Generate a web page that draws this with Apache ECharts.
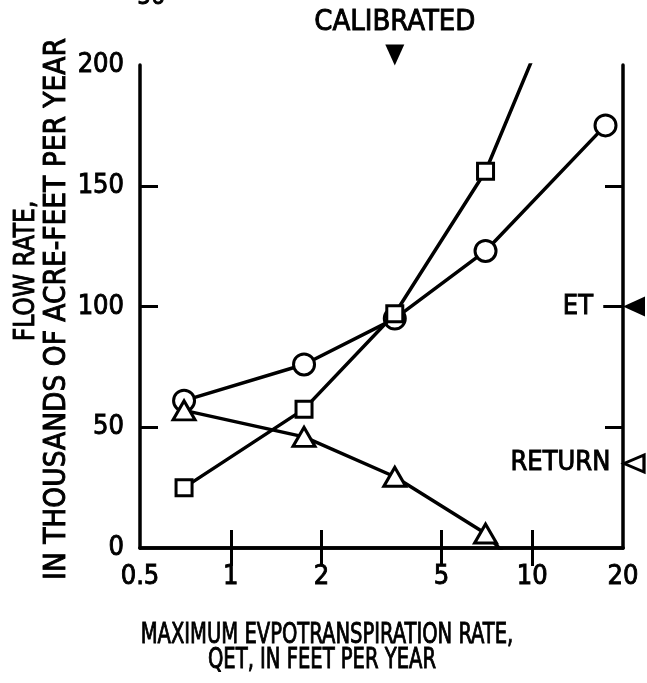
<!DOCTYPE html>
<html>
<head>
<meta charset="utf-8">
<script src="https://cdn.jsdelivr.net/npm/echarts@6/dist/echarts.min.js"></script>
<style>
html,body{margin:0;padding:0;background:#fff;}
#chart{width:647px;height:683px;}
</style>
</head>
<body>
<div id="chart"></div>
<script>
// Data
const qetValues = [0.7, 1.75, 3.5, 7, 17.5];
const etFlow = [61, 76, 95, 123, 175];            // circles
const rechargeFlow = [25, 57.5, 97, 156, 275];    // squares (last point beyond axis)
const returnFlow = [57, 46, 29.5, 6, -47];        // triangles (last point below axis)
const xTickLabels = [0.5, 1, 2, 5, 10, 20];
const xTickMarks = [1, 2, 5, 10];
const yTickLabels = [0, 50, 100, 150, 200];
const yTickMarks = [50, 100, 150];
const calibratedQet = 3.5;
const etObserved = 100;
const returnObserved = 35;

const FONT = "'DejaVu Sans Condensed','DejaVu Sans',sans-serif";
const bolden = { textBorderColor: '#000', textBorderWidth: 0.9 };

function pairs(xs, ys) { return xs.map((x, i) => [x, ys[i]]); }

const lineStyle = { color: '#000', width: 3.5 };
const hollow = { color: '#fff', borderColor: '#000', borderWidth: 3 };

const chart = echarts.init(document.getElementById('chart'), null, { renderer: 'canvas' });

const baseX = {
  type: 'log', logBase: 10, min: 0.5, max: 20,
  splitLine: { show: false },
  axisLine: { lineStyle: { color: '#000', width: 3.5 } },
  axisTick: { inside: true, length: 18, lineStyle: { color: '#000', width: 3 }, customValues: xTickMarks },
};
const baseY = {
  type: 'value', min: 0, max: 200, interval: 50,
  splitLine: { show: false },
  axisLine: { onZero: false, lineStyle: { color: '#000', width: 3.5 } },
  axisTick: { inside: true, length: 18, lineStyle: { color: '#000', width: 3 }, customValues: yTickMarks },
};

function txt(s, x, y, size, opts) {
  return Object.assign({
    type: 'text', x: x, y: y,
    style: Object.assign({ text: s, fill: '#000', font: size + 'px ' + FONT, align: 'center', verticalAlign: 'middle',
      stroke: '#000', lineWidth: 0.9 })
  }, opts || {});
}

chart.setOption({
  animation: false,
  backgroundColor: '#fff',
  grid: { left: 140, right: 24, top: 65, bottom: 135 },
  xAxis: [
    Object.assign({}, baseX, {
      position: 'bottom',
      axisLabel: Object.assign({ customValues: xTickLabels, color: '#000', fontFamily: FONT, fontSize: 27, margin: 15,
        formatter: v => String(v) }, bolden)
    }),
    Object.assign({}, baseX, { position: 'top', axisLabel: { show: false } })
  ],
  yAxis: [
    Object.assign({}, baseY, {
      position: 'left',
      axisLabel: Object.assign({ customValues: yTickLabels, color: '#000', fontFamily: FONT, fontSize: 27, margin: 16 }, bolden)
    }),
    Object.assign({}, baseY, { position: 'right', axisLabel: { show: false } })
  ],
  series: [
    {
      type: 'line', name: 'ET', data: pairs(qetValues, etFlow), clip: true,
      symbol: 'circle', symbolSize: 21, lineStyle: lineStyle, itemStyle: hollow,
      z: 3,
      markPoint: {
        silent: true,
        data: [
          {
            coord: [calibratedQet, 200], symbol: 'triangle', symbolRotate: 180,
            symbolSize: [19, 21], symbolOffset: [0, -10],
            itemStyle: { color: '#000', borderWidth: 0 },
            label: Object.assign({ show: true, position: 'top', distance: 8, formatter: 'CALIBRATED',
              color: '#000', fontFamily: FONT, fontSize: 29 }, bolden)
          },
          {
            coord: [20, etObserved], symbol: 'triangle', symbolRotate: 90,
            symbolSize: [20, 22], symbolOffset: [11, 0],
            itemStyle: { color: '#000', borderWidth: 0 },
            label: Object.assign({ show: true, position: 'left', distance: 30, formatter: 'ET',
              color: '#000', fontFamily: FONT, fontSize: 27 }, bolden)
          },
          {
            coord: [20, returnObserved], symbol: 'triangle', symbolRotate: 90,
            symbolSize: [17, 20], symbolOffset: [11, 0],
            itemStyle: { color: '#fff', borderColor: '#000', borderWidth: 3 },
            label: Object.assign({ show: true, position: 'left', distance: 12, formatter: 'RETURN',
              color: '#000', fontFamily: FONT, fontSize: 27 }, bolden)
          }
        ]
      },
      markLine: {
        silent: true, symbol: 'none',
        lineStyle: { color: '#000', width: 3, type: 'solid' },
        label: { show: false },
        data: [[{ coord: [17.2, etObserved] }, { coord: [20, etObserved] }]]
      }
    },
    {
      type: 'line', name: 'Recharge', data: pairs(qetValues, rechargeFlow), clip: true,
      symbol: 'rect', symbolSize: 16, lineStyle: lineStyle, itemStyle: hollow, z: 4
    },
    {
      type: 'line', name: 'Return', data: pairs(qetValues, returnFlow), clip: true,
      symbol: 'triangle', symbolSize: [22, 19], lineStyle: lineStyle, itemStyle: hollow, z: 5
    }
  ],
  graphic: [
    txt('56', 151, -2, 24),
    txt('FLOW RATE,', 26, 271, 29, { rotation: Math.PI / 2, scaleX: 0.9 }),
    txt('IN THOUSANDS OF ACRE-FEET PER YEAR', 57, 309, 29.5, { rotation: Math.PI / 2 }),
    txt('MAXIMUM EVPOTRANSPIRATION RATE,', 327, 635, 29, { scaleX: 0.75 }),
    txt('QET, IN FEET PER YEAR', 322, 660, 29, { scaleX: 0.75 })
  ]
});
</script>
</body>
</html>
